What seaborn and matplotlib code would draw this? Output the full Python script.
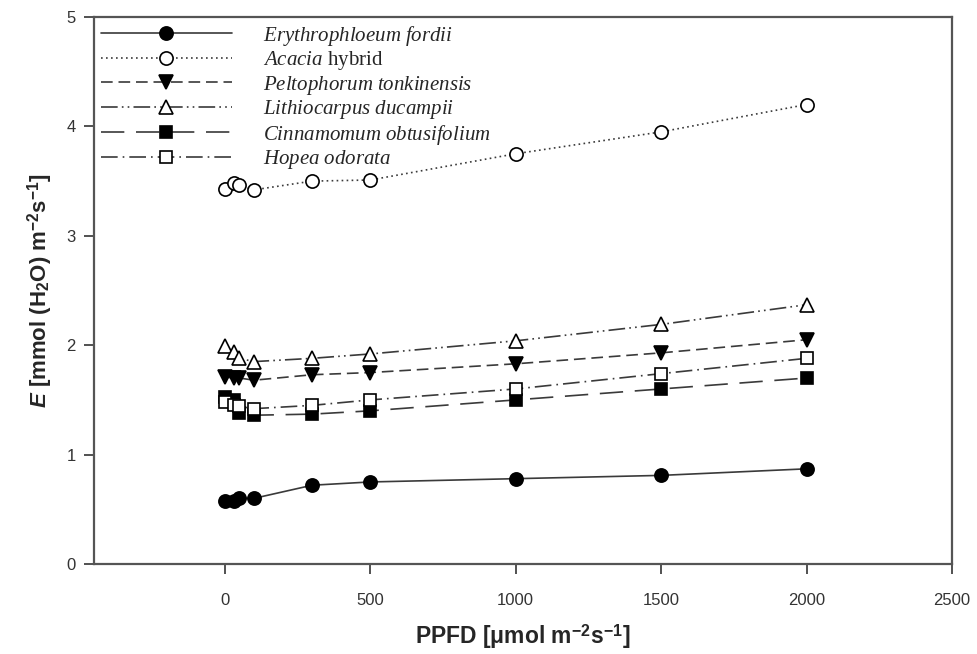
import numpy as np
import pandas as pd
import matplotlib
matplotlib.use("Agg")
import matplotlib.pyplot as plt
import seaborn as sns

# data
ppfd = [0, 30, 50, 100, 300, 500, 1000, 1500, 2000]

erythrophloeum = [0.58, 0.58, 0.60, 0.60, 0.72, 0.75, 0.78, 0.81, 0.87]
acacia = [3.43, 3.48, 3.46, 3.42, 3.50, 3.51, 3.75, 3.95, 4.20]
peltophorum = [1.71, 1.70, 1.70, 1.68, 1.73, 1.75, 1.83, 1.93, 2.05]
lithiocarpus = [1.99, 1.94, 1.88, 1.85, 1.88, 1.92, 2.04, 2.19, 2.37]
cinnamomum = [1.53, 1.50, 1.38, 1.36, 1.37, 1.40, 1.50, 1.60, 1.70]
hopea = [1.48, 1.45, 1.44, 1.42, 1.45, 1.50, 1.60, 1.74, 1.88]

labels = [r"$\mathit{Erythrophloeum\ fordii}$",
          r"$\mathit{Acacia}$ hybrid",
          r"$\mathit{Peltophorum\ tonkinensis}$",
          r"$\mathit{Lithiocarpus\ ducampii}$",
          r"$\mathit{Cinnamomum\ obtusifolium}$",
          r"$\mathit{Hopea\ odorata}$"]

sns.set_style("white")
plt.rcParams["font.family"] = ["Liberation Sans", "DejaVu Sans"]
plt.rcParams["mathtext.fontset"] = "custom"
plt.rcParams["mathtext.rm"] = "Liberation Serif"
plt.rcParams["mathtext.it"] = "Liberation Serif:italic"
plt.rcParams["mathtext.sf"] = "Liberation Sans:bold"
plt.rcParams["mathtext.cal"] = "Liberation Sans:italic:bold"

fig = plt.figure(figsize=(9.77, 6.54), dpi=100)
ax = fig.add_axes([94 / 977, 90 / 654, 858 / 977, 547 / 654])

series = [erythrophloeum, acacia, peltophorum, lithiocarpus, cinnamomum, hopea]
markers = ["o", "o", "v", "^", "s", "s"]
faces = ["black", "white", "black", "white", "black", "white"]
sizes = [9.5, 9.5, 9.5, 9.5, 8.5, 8.5]
styles = ["-", (0, (1, 2)), (0, (7, 3.5)), (0, (10, 2.5, 1, 2.5, 1, 2.5)),
          (0, (14, 7)), (0, (10, 3, 1, 3))]

for vals, lab, m, fc, ms, ls in zip(series, labels, markers, faces, sizes, styles):
    df = pd.DataFrame({"ppfd": ppfd, "E": vals})
    sns.lineplot(data=df, x="ppfd", y="E", ax=ax, label=lab, color="#3a3a3a",
                 linewidth=1.2, linestyle=ls, marker=m, markersize=ms,
                 markerfacecolor=fc, markeredgecolor="black", markeredgewidth=1.2,
                 estimator=None, sort=False)

ax.set_xlim(-450, 2500)
ax.set_ylim(0, 5)
ax.set_xticks([0, 500, 1000, 1500, 2000, 2500])
ax.set_yticks([0, 1, 2, 3, 4, 5])

for sp in ax.spines.values():
    sp.set_color("#555555")
    sp.set_linewidth(1.6)

ax.tick_params(axis="both", direction="out", length=7, width=1.2, color="#333333",
               labelsize=12, labelcolor="#333333", bottom=True, left=True,
               top=False, right=False)
ax.tick_params(axis="x", pad=14)
ax.tick_params(axis="y", pad=6)

ax.set_xlabel(r"PPFD [$\mathregular{\mu}$mol m$^{\mathsf{-2}}$s$^{\mathsf{-1}}$]",
              fontsize=16.5, fontweight="bold", labelpad=10)
ax.set_ylabel(r"$\mathcal{E}$ [mmol (H$_{\mathsf{2}}$O) m$^{\mathsf{-2}}$s$^{\mathsf{-1}}$]",
              fontsize=16, fontweight="bold", labelpad=8)

leg = ax.legend(loc="upper left", bbox_to_anchor=(0.0, 1.0), frameon=False,
                prop={"family": "Liberation Serif", "size": 15},
                handlelength=6.3, handletextpad=1.5,
                labelspacing=0.07, borderpad=0.12, borderaxespad=0.2)

fig.savefig("out.png", dpi=100)
